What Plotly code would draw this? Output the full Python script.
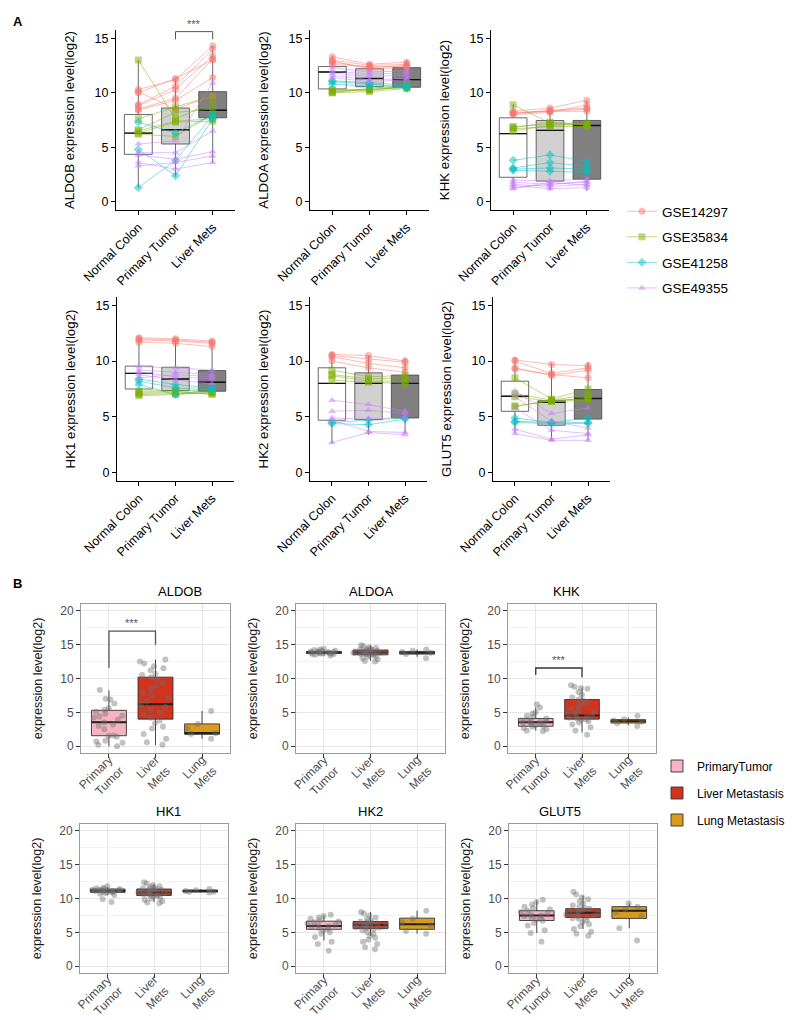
import plotly.graph_objects as go

W, H = 797, 1020

# ---------------- categories / labels ----------------
GROUPS_A = ["Normal Colon", "Primary Tumor", "Liver Mets"]
GROUPS_B = ["Primary<br>Tumor", "Liver<br>Mets", "Lung<br>Mets"]
DATASETS = ["GSE14297", "GSE35834", "GSE41258", "GSE49355"]
GENES = ["ALDOB", "ALDOA", "KHK", "HK1", "HK2", "GLUT5"]
LEGEND_B = ["PrimaryTumor", "Liver Metastasis", "Lung Metastasis"]

# ---------------- panel A: paired samples (normal, primary, liver) ----------------
ALDOB_A = {
    "GSE14297": [[10.3, 11.2, 14.3], [10.0, 11.3, 13.0], [8.9, 10.6, 14.0], [8.8, 10.3, 13.4],
                 [8.5, 9.5, 13.1], [8.4, 9.3, 11.4], [10.1, 8.5, 9.7]],
    "GSE35834": [[13.0, 7.6, 9.1], [7.6, 8.7, 9.7], [6.6, 8.2, 8.5], [6.5, 7.4, 7.6],
                 [6.3, 7.3, 7.4], [6.2, 6.0, 8.0]],
    "GSE41258": [[7.3, 6.3, 8.0], [4.8, 2.4, 7.6], [1.3, 3.8, 7.9]],
    "GSE49355": [[5.3, 5.6, 10.9], [4.5, 4.5, 6.5], [4.3, 3.9, 4.6], [3.6, 3.0, 3.6], [3.3, 3.6, 4.2]],
}
ALDOA_A = {
    "GSE14297": [[13.3, 12.6, 12.8], [13.0, 12.5, 12.6], [12.8, 12.3, 12.5], [12.6, 12.4, 12.4], [12.9, 12.2, 12.3]],
    "GSE35834": [[10.3, 10.2, 10.6], [10.1, 10.3, 10.5], [10.0, 10.4, 10.7], [10.0, 10.1, 10.4], [10.2, 10.3, 10.5]],
    "GSE41258": [[11.1, 10.9, 10.7], [11.0, 10.8, 10.5], [10.8, 10.6, 10.4]],
    "GSE49355": [[12.3, 11.9, 12.0], [12.0, 11.7, 11.8], [11.8, 11.5, 11.6], [11.6, 11.2, 11.3], [11.4, 11.0, 11.2]],
}
KHK_A = {
    "GSE14297": [[8.2, 8.3, 8.3], [8.1, 8.4, 8.6], [8.0, 8.2, 8.9], [8.3, 8.6, 9.3], [8.1, 8.3, 8.5]],
    "GSE35834": [[8.9, 7.2, 7.2], [6.9, 7.1, 7.1], [6.8, 7.3, 7.0], [6.7, 6.9, 6.9], [6.5, 7.0, 7.1]],
    "GSE41258": [[3.8, 4.3, 3.7], [3.1, 3.6, 3.25], [3.0, 3.1, 3.0], [2.9, 2.8, 2.7]],
    "GSE49355": [[2.0, 1.9, 2.1], [1.8, 1.6, 1.8], [1.6, 1.4, 1.6], [1.5, 1.2, 1.3], [1.3, 1.6, 1.9], [1.2, 1.8, 1.5]],
}
HK1_A = {
    "GSE14297": [[12.1, 12.0, 11.8], [11.9, 11.8, 11.6], [11.7, 11.6, 11.3], [12.0, 11.9, 11.7]],
    "GSE35834": [[7.3, 7.4, 7.3], [7.1, 7.2, 7.2], [7.0, 7.1, 7.1], [6.9, 7.0, 7.2], [7.2, 7.3, 7.0]],
    "GSE41258": [[8.4, 7.9, 7.6], [8.2, 7.6, 7.4], [7.9, 7.0, 7.5]],
    "GSE49355": [[9.5, 9.4, 9.2], [9.2, 9.0, 8.8], [9.0, 8.6, 8.4], [8.8, 8.3, 8.0], [8.5, 8.8, 8.6]],
}
HK2_A = {
    "GSE14297": [[10.6, 10.5, 10.0], [10.5, 10.2, 9.9], [10.4, 9.8, 9.4], [10.0, 9.4, 9.0]],
    "GSE35834": [[9.2, 8.6, 8.7], [8.8, 8.4, 8.5], [8.7, 8.2, 8.2], [8.3, 8.1, 8.0]],
    "GSE41258": [[4.4, 4.3, 4.8], [4.5, 4.7, 4.9]],
    "GSE49355": [[6.5, 6.1, 5.5], [5.5, 5.6, 5.3], [4.9, 4.8, 5.0], [4.7, 3.7, 3.6], [2.7, 3.6, 3.4]],
}
GLUT5_A = {
    "GSE14297": [[10.1, 9.7, 9.6], [10.0, 8.9, 9.4], [9.4, 8.7, 9.2], [9.3, 8.8, 8.5]],
    "GSE35834": [[8.5, 6.6, 7.5], [7.1, 6.5, 7.0], [6.8, 6.4, 6.7], [6.0, 6.4, 6.5], [5.9, 6.5, 6.6]],
    "GSE41258": [[4.9, 4.5, 4.9], [4.6, 4.5, 4.5], [4.5, 4.4, 4.4]],
    "GSE49355": [[7.3, 5.3, 5.8], [6.8, 4.6, 4.0], [5.8, 3.8, 3.5], [3.9, 3.0, 3.4], [3.5, 2.9, 2.9]],
}

# box statistics panel A: per group (normal, primary, liver)
ALDOB_A_BOX = {"q1": [4.35, 5.3, 7.7], "med": [6.3, 6.6, 8.4], "q3": [8.0, 8.6, 10.1], "lo": [1.3, 2.3, 3.6], "hi": [13.0, 11.3, 14.3]}
ALDOA_A_BOX = {"q1": [10.35, 10.55, 10.5], "med": [11.9, 11.3, 11.2], "q3": [12.4, 12.2, 12.3], "lo": [9.85, 10.0, 10.1], "hi": [13.4, 12.8, 13.0]}
KHK_A_BOX = {"q1": [2.25, 1.9, 2.07], "med": [6.25, 6.55, 7.0], "q3": [7.7, 7.45, 7.46], "lo": [1.2, 1.05, 1.0], "hi": [8.95, 8.65, 9.3]}
HK1_A_BOX = {"q1": [7.5, 7.35, 7.3], "med": [8.9, 8.4, 8.1], "q3": [9.55, 9.45, 9.15], "lo": [7.0, 6.9, 7.0], "hi": [12.1, 12.0, 11.8]}
HK2_A_BOX = {"q1": [4.7, 4.75, 4.9], "med": [8.0, 8.0, 8.0], "q3": [9.4, 8.95, 8.75], "lo": [2.6, 3.4, 3.5], "hi": [10.8, 10.5, 10.3]}
GLUT5_A_BOX = {"q1": [5.5, 4.25, 4.8], "med": [6.85, 6.3, 6.65], "q3": [8.2, 6.45, 7.45], "lo": [3.5, 2.85, 2.85], "hi": [10.3, 9.8, 9.9]}

# ---------------- panel B: samples per group ----------------
ALDOB_B_PRIMARY = [8.3, 7.0, 6.9, 6.3, 5.6, 5.4, 5.1, 4.8, 4.5, 4.4, 4.2, 3.9, 3.5, 3.2, 3.0, 2.5, 1.6, 1.5, 1.4, 0.8, 0.7, 0.5, 0.2, 0.0]
ALDOB_B_LIVER = [12.8, 12.5, 12.2, 11.8, 11.5, 11.2, 10.7, 10.5, 10.2, 9.8, 9.3, 8.9, 8.4, 7.9, 7.5, 7.1, 6.6, 6.2, 5.8, 5.4,
                 5.0, 4.6, 4.2, 3.8, 3.4, 2.9, 2.6, 1.8, 1.1, 0.6, 0.2]
ALDOB_B_LUNG = [5.2, 3.3, 2.6, 1.9, 1.8, 1.1]

ALDOA_B_PRIMARY = [14.4, 14.3, 14.2, 14.1, 14.0, 14.0, 13.9, 13.9, 13.8, 13.8, 13.8, 13.7, 13.7, 13.6, 13.6, 13.5, 13.4, 13.9, 14.1, 13.7]
ALDOA_B_LIVER = [14.9, 14.8, 14.6, 14.5, 14.4, 14.3, 14.2, 14.2, 14.1, 14.0, 14.0, 13.9, 13.9, 13.8, 13.8, 13.7, 13.6, 13.6,
                 13.5, 13.4, 13.3, 13.2, 13.0, 12.8, 12.6, 12.5, 14.1, 13.9, 13.7, 14.3]
ALDOA_B_LUNG = [14.3, 14.1, 13.9, 13.8, 13.6, 13.0]

KHK_B_PRIMARY = [6.2, 5.7, 5.0, 4.8, 4.5, 4.3, 4.1, 3.9, 3.8, 3.7, 3.6, 3.5, 3.4, 3.3, 3.1, 3.0, 2.9, 2.7, 2.5, 2.3, 2.2, 3.6]
KHK_B_LIVER = [9.0, 8.8, 8.6, 8.5, 8.0, 7.6, 7.2, 6.9, 6.7, 6.5, 6.2, 5.9, 5.6, 5.3, 5.0, 4.8, 4.6, 4.5, 4.4, 4.3,
               4.2, 4.1, 4.0, 3.9, 3.7, 3.5, 3.2, 2.8, 2.3, 1.7]
KHK_B_LUNG = [4.5, 4.0, 3.8, 3.6, 3.4, 3.0]

HK1_B_PRIMARY = [11.8, 11.6, 11.5, 11.4, 11.4, 11.3, 11.3, 11.2, 11.2, 11.1, 11.1, 11.0, 11.0, 10.9, 10.9, 10.8, 10.7, 10.5, 9.9, 9.5]
HK1_B_LIVER = [12.4, 12.2, 12.0, 11.8, 11.7, 11.6, 11.5, 11.4, 11.3, 11.2, 11.1, 11.0, 11.0, 10.9, 10.8, 10.7, 10.6, 10.5,
               10.4, 10.3, 10.1, 10.0, 9.8, 9.6, 9.4, 9.3, 11.2, 10.9, 10.6, 11.4]
HK1_B_LUNG = [11.4, 11.2, 11.1, 11.0, 11.0, 10.9]

HK2_B_PRIMARY = [7.6, 7.4, 7.2, 7.0, 6.8, 6.6, 6.5, 6.3, 6.1, 6.0, 5.9, 5.8, 5.6, 5.5, 5.3, 5.0, 4.8, 4.3, 3.6, 3.3, 2.3]
HK2_B_LIVER = [8.0, 7.8, 7.5, 7.2, 7.0, 6.8, 6.6, 6.5, 6.4, 6.3, 6.2, 6.1, 6.0, 5.9, 5.8, 5.7, 5.6, 5.5, 5.3, 5.0,
               4.8, 4.5, 4.2, 3.9, 3.6, 3.3, 2.8, 2.5, 6.1, 5.9]
HK2_B_LUNG = [8.2, 7.0, 6.5, 6.0, 5.2, 4.8]

GLUT5_B_PRIMARY = [9.8, 9.5, 9.1, 8.8, 8.6, 8.4, 8.2, 8.0, 7.8, 7.6, 7.5, 7.4, 7.2, 7.0, 6.9, 6.7, 6.4, 6.0, 5.3, 4.9, 3.6]
GLUT5_B_LIVER = [11.0, 10.6, 10.2, 9.9, 9.6, 9.3, 9.0, 8.8, 8.6, 8.5, 8.3, 8.2, 8.0, 7.9, 7.8, 7.7, 7.6, 7.5, 7.4, 7.3,
                 7.1, 7.0, 6.8, 6.5, 6.2, 5.9, 5.5, 5.1, 4.8, 4.5]
GLUT5_B_LUNG = [9.3, 8.8, 8.4, 8.0, 7.4, 5.6, 3.8]

# box statistics panel B: per group (primary, liver, lung)
ALDOB_B_BOX = {"q1": [1.55, 4.0, 1.75], "med": [3.55, 6.2, 1.95], "q3": [5.3, 10.2, 3.3], "lo": [0.0, 0.15, 1.1], "hi": [8.25, 12.8, 5.2]}
ALDOA_B_BOX = {"q1": [13.7, 13.5, 13.6], "med": [13.85, 13.85, 13.8], "q3": [14.0, 14.2, 14.0], "lo": [13.4, 12.6, 13.2], "hi": [14.4, 14.9, 14.3]}
KHK_B_BOX = {"q1": [2.95, 4.0, 3.43], "med": [3.55, 4.55, 3.7], "q3": [4.1, 6.9, 3.93], "lo": [2.3, 2.05, 3.1], "hi": [5.75, 8.7, 4.26]}
HK1_B_BOX = {"q1": [10.9, 10.45, 10.95], "med": [11.15, 10.9, 11.1], "q3": [11.4, 11.4, 11.25], "lo": [10.6, 9.45, 10.9], "hi": [11.7, 12.15, 11.4]}
HK2_B_BOX = {"q1": [5.45, 5.55, 5.45], "med": [5.95, 6.1, 6.2], "q3": [6.65, 6.6, 7.1], "lo": [3.8, 4.45, 4.8], "hi": [7.5, 8.0, 8.2]}
GLUT5_B_BOX = {"q1": [6.75, 7.2, 7.06], "med": [7.5, 7.9, 8.2], "q3": [8.2, 8.5, 8.8], "lo": [4.9, 5.5, 5.6], "hi": [9.7, 10.4, 9.3]}

A_DATA = {"ALDOB": ALDOB_A, "ALDOA": ALDOA_A, "KHK": KHK_A, "HK1": HK1_A, "HK2": HK2_A, "GLUT5": GLUT5_A}
A_BOX = {"ALDOB": ALDOB_A_BOX, "ALDOA": ALDOA_A_BOX, "KHK": KHK_A_BOX, "HK1": HK1_A_BOX, "HK2": HK2_A_BOX, "GLUT5": GLUT5_A_BOX}
B_DATA = {
    "ALDOB": [ALDOB_B_PRIMARY, ALDOB_B_LIVER, ALDOB_B_LUNG],
    "ALDOA": [ALDOA_B_PRIMARY, ALDOA_B_LIVER, ALDOA_B_LUNG],
    "KHK": [KHK_B_PRIMARY, KHK_B_LIVER, KHK_B_LUNG],
    "HK1": [HK1_B_PRIMARY, HK1_B_LIVER, HK1_B_LUNG],
    "HK2": [HK2_B_PRIMARY, HK2_B_LIVER, HK2_B_LUNG],
    "GLUT5": [GLUT5_B_PRIMARY, GLUT5_B_LIVER, GLUT5_B_LUNG],
}
B_BOX = {"ALDOB": ALDOB_B_BOX, "ALDOA": ALDOA_B_BOX, "KHK": KHK_B_BOX, "HK1": HK1_B_BOX, "HK2": HK2_B_BOX, "GLUT5": GLUT5_B_BOX}

# ---------------- styles ----------------
FONT = "Liberation Sans, Arial, Helvetica, sans-serif"
DS_RGB = ["248,118,109", "124,174,0", "0,191,196", "199,124,255"]
DS_SYMBOLS = ["circle", "square", "diamond", "triangle-up"]
A_FILLS = ["#ffffff", "#d0d0d0", "#808080"]
B_FILLS = ["#F6B3C1", "#D0341F", "#D89B1A"]

# panel positions in pixels (left, right, top, bottom)
A_POS = [(108, 227, 22, 202), (302, 421, 22, 202), (483, 601, 22, 202),
         (109, 226, 289, 473), (302, 419, 289, 473), (485, 602, 289, 473)]
B_POS = [(73, 222, 596, 745), (288, 437, 596, 745), (500, 648, 596, 745),
         (72, 220, 816, 965), (288, 437, 816, 965), (501, 649, 816, 965)]


def xd(l, r):
    return [l / W, r / W]


def yd(t, b):
    return [1 - b / H, 1 - t / H]


fig = go.Figure()
layout = dict(
    width=W, height=H, margin=dict(l=0, r=0, t=0, b=0, autoexpand=False),
    paper_bgcolor="white", plot_bgcolor="white",
    font=dict(family=FONT, color="black"),
    boxmode="overlay",
    shapes=[], annotations=[],
)


def axname(n):
    return ("x" if n == 1 else f"x{n}"), ("y" if n == 1 else f"y{n}")


def median_bar(xa, ya, meds, width_px, color):
    # flat box (q1 = median = q3) drawn by the box trace to emphasise the median
    return go.Box(x=[0, 1, 2], q1=meds, median=meds, q3=meds, lowerfence=meds, upperfence=meds,
                  fillcolor="rgba(0,0,0,0)", line=dict(color=color, width=width_px),
                  whiskerwidth=0, width=0.75, boxpoints=False, showlegend=False,
                  hoverinfo="skip", xaxis=xa, yaxis=ya)


# ---------------- panel A ----------------
for gi, gene in enumerate(GENES):
    n = gi + 1
    xa, ya = axname(n)
    st = A_BOX[gene]
    for k in range(3):
        fig.add_trace(go.Box(
            x=[k], q1=[st["q1"][k]], median=[st["med"][k]], q3=[st["q3"][k]],
            lowerfence=[st["lo"][k]], upperfence=[st["hi"][k]],
            fillcolor=A_FILLS[k], line=dict(color="#444444", width=0.8),
            whiskerwidth=0, width=0.75, boxpoints=False, showlegend=False,
            hoverinfo="skip", xaxis=xa, yaxis=ya))
    fig.add_trace(median_bar(xa, ya, st["med"], 1.4, "#111111"))
    for di, ds in enumerate(DATASETS):
        xs, ys = [], []
        for trip in A_DATA[gene][ds]:
            xs += [0, 1, 2, None]
            ys += list(trip) + [None]
        fig.add_trace(go.Scatter(
            x=xs, y=ys, mode="lines+markers", name=ds,
            line=dict(color=f"rgba({DS_RGB[di]},0.55)", width=0.9),
            marker=dict(symbol=DS_SYMBOLS[di], size=7, color=f"rgba({DS_RGB[di]},0.5)", line=dict(width=0)),
            legend="legend", legendgroup=ds, showlegend=(gi == 0),
            xaxis=xa, yaxis=ya))
    l, r, t, b = A_POS[gi]
    axstyle = dict(showline=True, linecolor="black", linewidth=1.1, ticks="outside",
                   ticklen=4, tickwidth=1, tickcolor="black", showgrid=False, zeroline=False,
                   automargin=False, tickfont=dict(size=12.5, color="black"))
    layout[f"xaxis{n}"] = dict(domain=xd(l, r), anchor=ya, range=[-0.6, 2.6],
                              tickmode="array", tickvals=[0, 1, 2], ticktext=GROUPS_A,
                              tickangle=-45, **axstyle)
    layout[f"yaxis{n}"] = dict(domain=yd(t, b), anchor=xa, range=[-0.75, 15.75],
                              tickmode="array", tickvals=[0, 5, 10, 15],
                              title=dict(text=f"{gene} expression level(log2)", font=dict(size=13.3), standoff=16),
                              **axstyle)

# significance bracket on ALDOB (panel A)
layout["shapes"].append(dict(type="path", xref="x", yref="y", path="M 1,14.9 L 1,15.6 L 2,15.6 L 2,14.9",
                             line=dict(color="#555555", width=1)))
layout["annotations"].append(dict(x=1.5, y=15.6, xref="x", yref="y", text="***", showarrow=False,
                                  yanchor="bottom", font=dict(size=11, color="#555555")))

# ---------------- panel B ----------------
for gi, gene in enumerate(GENES):
    n = gi + 7
    xa, ya = axname(n)
    st = B_BOX[gene]
    for k in range(3):
        fig.add_trace(go.Box(
            x=[k], q1=[st["q1"][k]], median=[st["med"][k]], q3=[st["q3"][k]],
            lowerfence=[st["lo"][k]], upperfence=[st["hi"][k]],
            fillcolor=B_FILLS[k], line=dict(color="#333333", width=0.9),
            whiskerwidth=0, width=0.75, boxpoints=False, name=LEGEND_B[k],
            legend="legend2", legendgroup=LEGEND_B[k], showlegend=(gi == 0),
            hoverinfo="skip", xaxis=xa, yaxis=ya))
    fig.add_trace(median_bar(xa, ya, st["med"], 2.0, "#222222"))
    for k in range(3):
        fig.add_trace(go.Box(
            y=B_DATA[gene][k], x0=k, boxpoints="all", jitter=1.0, pointpos=0,
            fillcolor="rgba(0,0,0,0)", line=dict(color="rgba(0,0,0,0)", width=0),
            marker=dict(color="rgba(110,110,110,0.42)", size=6, line=dict(width=0)),
            width=0.75, showlegend=False, hoverinfo="skip", xaxis=xa, yaxis=ya))
    l, r, t, b = B_POS[gi]
    bstyle = dict(showline=True, mirror=True, linecolor="#9a9a9a", linewidth=1, ticks="outside",
                  ticklen=4, tickwidth=1, tickcolor="#333333", showgrid=True, gridcolor="#e6e6e6",
                  gridwidth=1, zeroline=False, automargin=False, tickfont=dict(size=12, color="#4d4d4d"))
    layout[f"xaxis{n}"] = dict(domain=xd(l, r), anchor=ya, range=[-0.6, 2.6],
                              tickmode="array", tickvals=[0, 1, 2], ticktext=GROUPS_B,
                              tickangle=-45, ticklabelstandoff=-10, **bstyle)
    layout[f"yaxis{n}"] = dict(domain=yd(t, b), anchor=xa, range=[-1, 21],
                              tickmode="array", tickvals=[0, 5, 10, 15, 20],
                              minor=dict(tickmode="array", tickvals=[2.5, 7.5, 12.5, 17.5], showgrid=True,
                                         gridcolor="#f3f3f3", ticks=""),
                              title=dict(text="expression level(log2)", font=dict(size=12.5, color="#1a1a1a"), standoff=14),
                              **bstyle)
    layout["annotations"].append(dict(x=(l + r) / 2 / W, y=1 - (t - 3) / H, xref="paper", yref="paper",
                                      text=gene, showarrow=False, yanchor="bottom",
                                      font=dict(size=13, color="black")))

# significance brackets panel B (ALDOB -> axis 7, KHK -> axis 9)
layout["shapes"].append(dict(type="path", xref="x7", yref="y7", path="M 0,11.6 L 0,17 L 1,17 L 1,15",
                             line=dict(color="#555555", width=1.3)))
layout["annotations"].append(dict(x=0.5, y=17, xref="x7", yref="y7", text="***", showarrow=False,
                                  yanchor="bottom", font=dict(size=11, color="#555555")))
layout["shapes"].append(dict(type="path", xref="x9", yref="y9", path="M 0,10.5 L 0,11.55 L 1,11.55 L 1,10.2",
                             line=dict(color="#333333", width=1.3)))
layout["annotations"].append(dict(x=0.5, y=11.55, xref="x9", yref="y9", text="***", showarrow=False,
                                  yanchor="bottom", font=dict(size=11, color="#555555")))

# panel letters
layout["annotations"].append(dict(x=3 / W, y=1 - 4 / H, xref="paper", yref="paper", text="<b>A</b>",
                                  showarrow=False, xanchor="left", yanchor="top", font=dict(size=13)))
layout["annotations"].append(dict(x=3 / W, y=1 - 566 / H, xref="paper", yref="paper", text="<b>B</b>",
                                  showarrow=False, xanchor="left", yanchor="top", font=dict(size=13)))

layout["legend"] = dict(x=614 / W, y=1 - 242 / H, xanchor="left", yanchor="middle",
                        font=dict(size=13.5, color="black"), tracegroupgap=5,
                        bgcolor="rgba(0,0,0,0)", itemwidth=30)
layout["legend2"] = dict(x=649 / W, y=1 - 785 / H, xanchor="left", yanchor="middle",
                         font=dict(size=12, color="black"), tracegroupgap=8,
                         bgcolor="rgba(0,0,0,0)", itemwidth=30)

fig.update_layout(**layout)
fig.write_html("out.html")
